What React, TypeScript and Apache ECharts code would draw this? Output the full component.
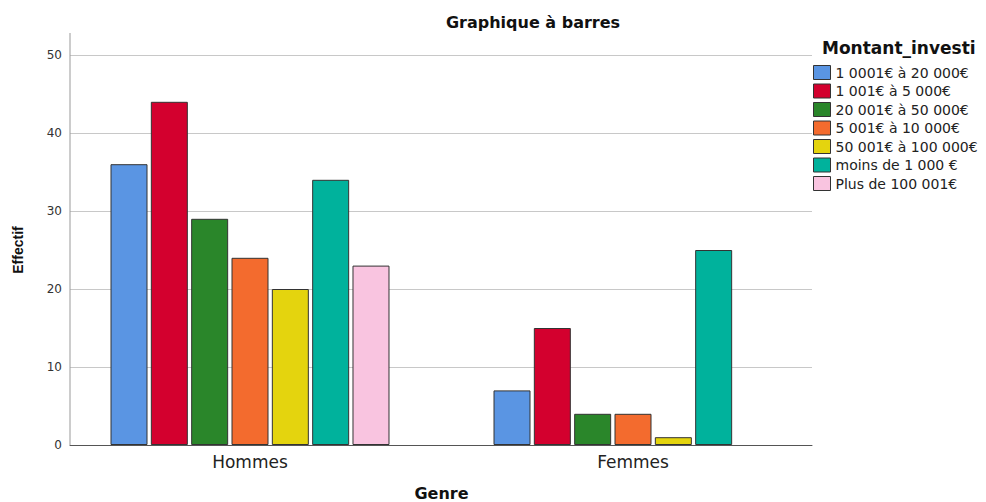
import React, { useEffect, useRef } from "react";
import * as echarts from "echarts";

const categories = ["Hommes", "Femmes"];
const seriesNames = [
  "1 0001€ à 20 000€",
  "1 001€ à 5 000€",
  "20 001€ à 50 000€",
  "5 001€ à 10 000€",
  "50 001€ à 100 000€",
  "moins de 1 000 €",
  "Plus de 100 001€",
];
const hommesValues = [36, 44, 29, 24, 20, 34, 23];
const femmesValues = [7, 15, 4, 4, 1, 25, null];
const barColors = ["#5a95e3", "#d3002e", "#2a862a", "#f36b2e", "#e4d40e", "#00b29c", "#f9c4e0"];
const yMin = 0;
const yMax = 50;
const yInterval = 10;

const FONT = "DejaVu Sans";

export default function App() {
  const ref = useRef<HTMLDivElement>(null);
  useEffect(() => {
    if (!ref.current) return;
    const chart = echarts.init(ref.current, undefined, { renderer: "svg" });
    const series = seriesNames.map((name, i) => ({
      name,
      type: "bar",
      xAxisIndex: 0,
      yAxisIndex: 0,
      barWidth: 37,
      barGap: "9%",
      data: [hommesValues[i], femmesValues[i]],
      itemStyle: { color: barColors[i], borderColor: "#333", borderWidth: 1 },
    }));
    chart.setOption({
      animation: false,
      backgroundColor: "#ffffff",
      title: {
        text: "Graphique à barres",
        left: 528,
        top: 9,
        textAlign: "center",
        textStyle: { fontFamily: FONT, fontSize: 16, fontWeight: "bold", color: "#111" },
      },
      legend: {
        orient: "vertical",
        left: 813,
        top: 65,
        padding: 0,
        itemWidth: 17,
        itemHeight: 14,
        itemGap: 3.5,
        icon: "rect",
        itemStyle: { borderColor: "#333", borderWidth: 1 },
        textStyle: { fontFamily: FONT, fontSize: 14, color: "#222" },
        data: seriesNames,
      },
      grid: [
        { left: 58.5, width: 766, top: 55, height: 390, containLabel: false, outerBoundsMode: "none" },
        { left: 70, width: 742, top: 55, height: 390, containLabel: false, outerBoundsMode: "none" },
      ],
      xAxis: [
        {
          type: "category",
          gridIndex: 0,
          data: categories,
          axisLine: { show: false },
          axisTick: { show: false },
          axisLabel: { fontFamily: FONT, fontSize: 17, color: "#222", margin: 8 },
          name: "Genre",
          nameLocation: "middle",
          nameGap: 40,
          nameTextStyle: { fontFamily: FONT, fontSize: 16, fontWeight: "bold", color: "#111" },
        },
        {
          type: "value",
          gridIndex: 1,
          min: 0,
          max: 1,
          axisLine: { show: true, lineStyle: { color: "#555", width: 1 } },
          axisTick: { show: false },
          axisLabel: { show: false },
          splitLine: { show: false },
        },
      ],
      yAxis: [
        { type: "value", gridIndex: 0, min: yMin, max: yMax, show: false },
        {
          type: "value",
          gridIndex: 1,
          min: yMin,
          max: yMax,
          interval: yInterval,
          axisLine: { show: false },
          axisTick: { show: false },
          axisLabel: { fontFamily: FONT, fontSize: 12, color: "#333", margin: 8 },
          splitLine: { show: true, lineStyle: { color: "#c8c8c8", width: 1 } },
          name: "Effectif",
          nameLocation: "middle",
          nameGap: 45,
          nameTextStyle: { fontFamily: "Liberation Sans", fontSize: 14, fontWeight: "bold", color: "#111" },
        },
      ],
      graphic: [
        {
          type: "line",
          shape: { x1: 70, y1: 33, x2: 70, y2: 445 },
          style: { stroke: "#999", lineWidth: 1 },
          z: 1,
        },
        {
          type: "text",
          x: 822,
          y: 48,
          style: {
            text: "Montant_investi",
            fontFamily: FONT,
            fontSize: 17,
            fontWeight: "bold",
            fill: "#111",
            verticalAlign: "middle",
          },
        },
      ],
      series,
    });
    return () => chart.dispose();
  }, []);
  return (
    <div
      ref={ref}
      style={{ position: "fixed", left: 0, top: 0, width: 986, height: 502 }}
    />
  );
}
